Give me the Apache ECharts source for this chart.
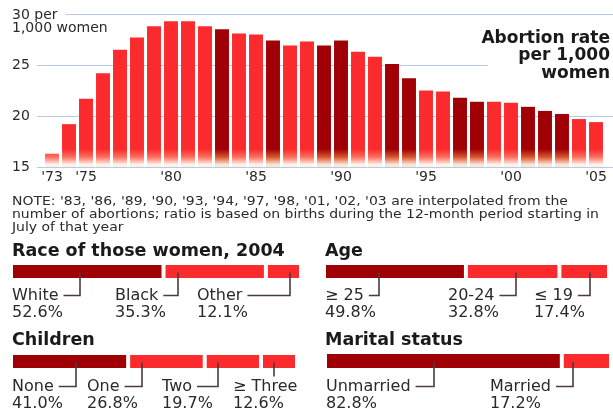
<!DOCTYPE html>
<html><head><meta charset="utf-8">
<script src="https://cdn.jsdelivr.net/npm/echarts@6/dist/echarts.min.js"></script>
<style>html,body{margin:0;padding:0;background:#fff}#c{width:613px;height:412px}</style>
</head><body><div id="c"></div>
<script>
// ---------- data ----------
const years = [1973,1974,1975,1976,1977,1978,1979,1980,1981,1982,1983,1984,1985,1986,1987,1988,1989,1990,1991,1992,1993,1994,1995,1996,1997,1998,1999,2000,2001,2002,2003,2004,2005];
const rates = [16.3,19.2,21.7,24.2,26.5,27.7,28.8,29.3,29.3,28.8,28.5,28.1,28.0,27.4,26.9,27.3,26.9,27.4,26.3,25.8,25.1,23.7,22.5,22.4,21.8,21.4,21.4,21.3,20.9,20.5,20.2,19.7,19.4];
const interpolatedYears = [1983,1986,1989,1990,1993,1994,1997,1998,2001,2002,2003];
const xTickYears = [1973,1975,1980,1985,1990,1995,2000,2005];
const yTicks = [15,20,25,30];
const yUnitText = '1,000 women';

const raceLabels = ['White','Black','Other'];
const raceValues = [52.6,35.3,12.1];
const ageLabels = ['\u2265 25','20-24','\u2264 19'];
const ageValues = [49.8,32.8,17.4];
const childLabels = ['None','One','Two','\u2265 Three'];
const childValues = [41.0,26.8,19.7,12.6];
const maritalLabels = ['Unmarried','Married'];
const maritalValues = [82.8,17.2];

const noteText = "NOTE: '83, '86, '89, '90, '93, '94, '97, '98, '01, '02, '03 are interpolated from the\nnumber of abortions; ratio is based on births during the 12-month period starting in\nJuly of that year";

// ---------- style / layout ----------
const FONT = 'DejaVu Sans';
const DARK = '#a00005', BRIGHT = '#fb2a2c';
const GRID_C = '#b9cbe0';
const TXT = '#2a2a2a', TITLE = '#1a1a1a', LEADER = '#4b3a40';

function fade(c, mid, pale){
  return {type:'linear', x:0, y:0, x2:0, y2:412, global:true, colorStops:[
    {offset:0,color:c},{offset:149/412,color:c},{offset:157/412,color:mid},
    {offset:164.5/412,color:pale},{offset:1,color:'#ffffff'}]};
}
const darkFill = fade(DARK,'#d8542a','#fbe4d8');
const brightFill = fade(BRIGHT,'#fc6e5c','#fff0ea');

const groupsLayout = [
  {title:'Race of those women, 2004', labels:raceLabels, values:raceValues, x:12, w:288, titleX:12, titleY:251.5, barTop:264, barH:15, textY:295.5, labelX:[12,115,197], leaderX:[80,178,290]},
  {title:'Age', labels:ageLabels, values:ageValues, x:325, w:283, titleX:325, titleY:251.5, barTop:264, barH:15, textY:295.5, labelX:[325,448,534], leaderX:[379,516,590]},
  {title:'Children', labels:childLabels, values:childValues, x:12, w:284, titleX:12, titleY:340, barTop:354, barH:15, textY:386.5, labelX:[12,87,162,233], leaderX:[76,142,218,274]},
  {title:'Marital status', labels:maritalLabels, values:maritalValues, x:326, w:284, titleX:325, titleY:340, barTop:353, barH:16, textY:386.5, labelX:[326,490], leaderX:[434,573]}
];

const mctx = document.createElement('canvas').getContext('2d');
mctx.font = '16px "' + FONT + '"';

// ---------- build option ----------
const grids = [
  {left:37, right:0, top:14, height:153, outerBoundsMode:'none'},
  {left:43.5, width:561, top:14, height:153, outerBoundsMode:'none'}
];
const xAxes = [
  {gridIndex:0, type:'value', min:0, max:1, show:false},
  {gridIndex:1, type:'category', data:years.map(String),
   axisLine:{show:false}, axisTick:{show:false},
   axisLabel:{interval:(i,v)=>xTickYears.includes(+v), formatter:v=>"'"+String(v).slice(2),
     margin:3, fontFamily:FONT, fontSize:14, color:TXT}}
];
const yAxes = [
  {gridIndex:0, type:'value', min:yTicks[0], max:yTicks[yTicks.length-1], interval:5,
   axisLine:{show:false}, axisTick:{show:false},
   splitLine:{show:true, lineStyle:{color:GRID_C, width:1.2}},
   axisLabel:{align:'left', margin:25, fontFamily:FONT, fontSize:14, color:TXT,
     formatter:v=> v===yTicks[yTicks.length-1] ? '{a|'+v+' per}' : String(v),
     rich:{a:{fontFamily:FONT, fontSize:14, color:TXT, padding:[2,8,0,0], backgroundColor:'#fff'}}}},
  {gridIndex:1, type:'value', min:yTicks[0], max:yTicks[yTicks.length-1], show:false}
];
const series = [
  {type:'bar', xAxisIndex:1, yAxisIndex:1, barCategoryGap:'18%', silent:true,
   data: rates.map((v,i)=>({value:v, itemStyle:{color: interpolatedYears.includes(years[i]) ? darkFill : brightFill}}))}
];

const graphics = [];
// y unit, second line of top tick label
graphics.push({type:'text', x:12, y:28.5, z:50, style:{text:yUnitText, fontFamily:FONT, fontSize:14, fill:TXT, verticalAlign:'middle'}});
// note
graphics.push({type:'text', x:12, y:195, scaleX:1.075, z:50, style:{text:noteText, fontFamily:FONT, fontSize:13, lineHeight:13, fill:TXT, verticalAlign:'top'}});
// main title (with white mask behind last line to interrupt the 25 gridline)
graphics.push({type:'text', x:613, y:29.5, z:50, style:{
  text:'{a|Abortion rate}\n{a|per 1,000}\n{b|women}', align:'right', verticalAlign:'top',
  rich:{a:{fontFamily:FONT, fontSize:17, fontWeight:'bold', fill:TITLE, lineHeight:17.5, padding:[0,3,0,0]},
        b:{fontFamily:FONT, fontSize:17, fontWeight:'bold', fill:TITLE, lineHeight:17.5, padding:[0,3,0,53], backgroundColor:'#fff'}}}});

groupsLayout.forEach((g, gi)=>{
  const k = gi + 2;
  const total = g.values.reduce((a,b)=>a+b,0);
  grids.push({left:g.x-1, top:g.barTop-1, width:g.w+2, height:g.barH+2, outerBoundsMode:'none'});
  xAxes.push({gridIndex:k, type:'value', min:0, max:total, show:false});
  yAxes.push({gridIndex:k, type:'category', data:[''], show:false});
  g.values.forEach((v,i)=>{
    series.push({type:'bar', xAxisIndex:k, yAxisIndex:k, stack:'s'+gi, data:[v], barWidth:g.barH+2, silent:true,
      itemStyle:{color: i===0 ? DARK : BRIGHT, borderColor:'#fff', borderWidth:2}});
  });
  graphics.push({type:'text', x:g.titleX, y:g.titleY, z:50, style:{text:g.title, fontFamily:FONT, fontSize:17.5, fontWeight:'bold', fill:TITLE, verticalAlign:'middle'}});
  g.labels.forEach((lab,i)=>{
    const lx = g.labelX[i];
    graphics.push({type:'text', x:lx, y:g.textY-8, z:50, style:{text:lab+'\n'+g.values[i].toFixed(1)+'%', fontFamily:FONT, fontSize:16, lineHeight:17, fill:TXT, verticalAlign:'top'}});
    const tw = mctx.measureText(lab).width;
    const vx = g.leaderX[i];
    const top = g.barTop + g.barH/2 + 1;
    let pts;
    if (vx < lx + tw + 4) {
      pts = [[vx, top],[vx, g.textY-10]];
    } else {
      pts = [[lx+tw+5, g.textY],[vx, g.textY],[vx, top]];
    }
    graphics.push({type:'polyline', z:60, shape:{points:pts}, style:{stroke:LEADER, lineWidth:1.6, fill:null}});
  });
});

const chart = echarts.init(document.getElementById('c'), null, {renderer:'canvas', width:613, height:412});
chart.setOption({
  animation:false,
  backgroundColor:'#fff',
  grid:grids, xAxis:xAxes, yAxis:yAxes, series:series,
  graphic:{elements:graphics}
});
</script></body></html>
